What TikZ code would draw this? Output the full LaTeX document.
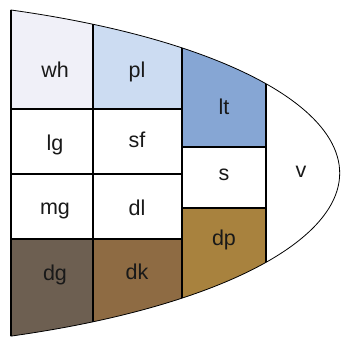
\documentclass[tikz,border=0pt]{standalone}
\usepackage{fontspec}
\setmainfont{Liberation Sans}
\definecolor{cwh}{HTML}{F0F0F8}
\definecolor{cpl}{HTML}{CCDCF2}
\definecolor{clt}{HTML}{86A6D4}
\definecolor{cdp}{HTML}{A8823E}
\definecolor{cdk}{HTML}{8E6B43}
\definecolor{cdg}{HTML}{6D5F51}
\begin{document}
\begin{tikzpicture}[x=1pt,y=-1pt,
  lab/.style={font=\fontsize{21.5}{21.5}\selectfont, text=black!90, inner sep=0pt},
  grid/.style={draw=black, line width=1.1pt},
  rim/.style={draw=black, line width=0.8pt}]
\useasboundingbox (0,0) rectangle (341,340);
% outline: straight left side and an elliptical arc (centre (-200,173))
\def\outline{(11,10) arc[start angle=-66.95, end angle=66.95, x radius=540, y radius=177.2] -- cycle}
\begin{scope}
  \clip \outline;
  \fill[white] (0,0) rectangle (341,340);
  \fill[cwh] (11,0) rectangle (93,109);
  \fill[cpl] (93,0) rectangle (182,109);
  \fill[clt] (182,0) rectangle (266,147);
  \fill[cdg] (11,239) rectangle (93,340);
  \fill[cdk] (93,239) rectangle (182,340);
  \fill[cdp] (182,208) rectangle (266,340);
  % cell borders
  \draw[grid] (93,0) -- (93,340);
  \draw[grid] (182,0) -- (182,340);
  \draw[grid] (266,0) -- (266,340);
  \draw[grid] (11,109) -- (182,109);
  \draw[grid] (11,174) -- (182,174);
  \draw[grid] (11,239) -- (182,239);
  \draw[grid] (182,147) -- (266,147);
  \draw[grid] (182,208) -- (266,208);
\end{scope}
\draw[rim] \outline;
\draw[black, line width=1.8pt] (11,10) -- (11,336);
% labels
\node[lab] (wh) at (55,70) {wh};
\node[lab] (pl) at (137,72) {pl};
\node[lab] (lt) at (224,107) {lt};
\node[lab] (lg) at (55,145) {lg};
\node[lab] (sf) at (137,140) {sf};
\node[lab] (s) at (224,175) {s};
\node[lab] (v) at (301,172) {v};
\node[lab] (mg) at (55,211) {mg};
\node[lab] (dl) at (137,208) {dl};
\node[lab] (dp) at (224,240) {dp};
\node[lab] (dg) at (55,275) {dg};
\node[lab] (dk) at (137,272) {dk};
\end{tikzpicture}
\end{document}
